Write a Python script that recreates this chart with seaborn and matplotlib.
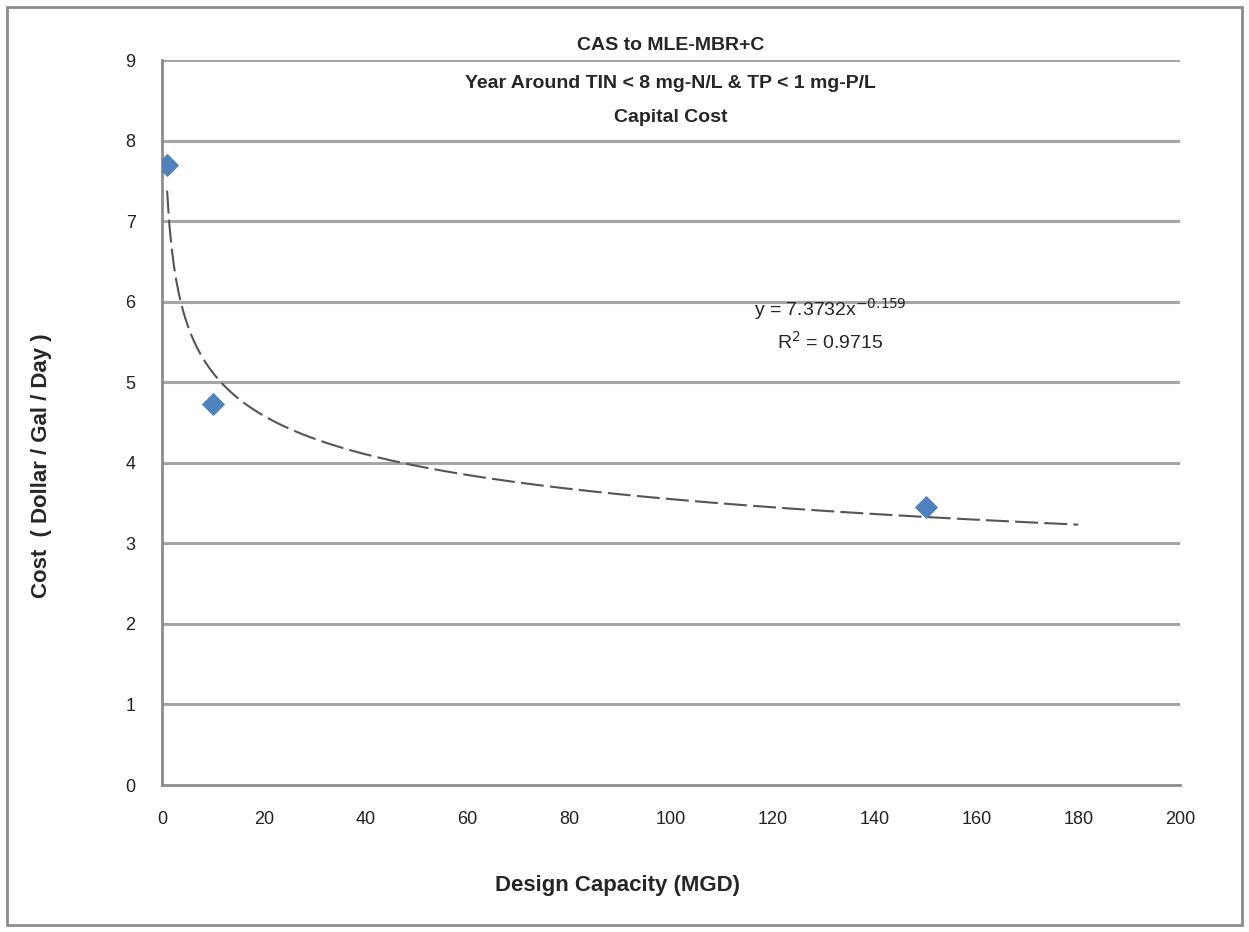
import numpy as np
import pandas as pd
import matplotlib
matplotlib.use("Agg")
import matplotlib.pyplot as plt
import seaborn as sns
from matplotlib.patches import Rectangle

# data
capacity = [1, 10, 150]          # MGD
cost = [7.70, 4.73, 3.45]        # $/gal/day
title_lines = ["CAS to MLE-MBR+C",
               "Year Around TIN < 8 mg-N/L & TP < 1 mg-P/L",
               "Capital Cost"]
eq_text = "y = 7.3732x$^{-0.159}$\nR$^2$ = 0.9715"
x_ticks = [0, 20, 40, 60, 80, 100, 120, 140, 160, 180, 200]
y_ticks = [0, 1, 2, 3, 4, 5, 6, 7, 8, 9]

df = pd.DataFrame({"capacity": capacity, "cost": cost})

# power trendline, fitted like Excel does (log-log least squares)
b, ln_a = np.polyfit(np.log(df["capacity"]), np.log(df["cost"]), 1)
a = np.exp(ln_a)
xs = np.linspace(1, 180, 400)
trend = pd.DataFrame({"capacity": xs, "cost": a * xs ** b})

sns.set_style("white")
plt.rcParams["font.family"] = ["Liberation Sans", "DejaVu Sans"]

fig = plt.figure(figsize=(12.49, 9.32), dpi=100)
ax = fig.add_axes([0.1297, 0.1577, 0.8151, 0.7779])

grid_c = "#a6a6a6"
for yv in y_ticks[1:]:
    ax.axhline(yv, color=grid_c, lw=2.2, zorder=0)

sns.lineplot(data=trend, x="capacity", y="cost", ax=ax, color="#555555",
             lw=1.5, zorder=2)
ax.lines[-1].set_dashes([11, 3])
sns.scatterplot(data=df, x="capacity", y="cost", ax=ax, marker="D", s=120,
                color="#4f81bd", edgecolor="#4f81bd", zorder=3)

ax.set_xlim(0, 200)
ax.set_ylim(0, 9)
ax.set_xticks(x_ticks)
ax.set_yticks(y_ticks)
ax.tick_params(axis="both", direction="out", length=7, width=1.5,
               color="#8c8c8c", labelsize=13, pad=12, labelcolor="#222222")
for side in ["top", "right"]:
    ax.spines[side].set_visible(False)
for side in ["left", "bottom"]:
    ax.spines[side].set_color("#8c8c8c")
    ax.spines[side].set_linewidth(2)

ax.set_xlabel("")
ax.set_ylabel("")
fig.text(0.033, 0.5, "Cost  ( Dollar / Gal / Day )", rotation=90,
         ha="center", va="center", fontsize=16, fontweight="bold")
fig.text(0.494, 0.05, "Design Capacity (MGD)", ha="center", va="center",
         fontsize=16, fontweight="bold")

for i, line in enumerate(title_lines):
    fig.text(0.537, 1 - [45, 84, 118][i] / 932, line, ha="center",
             va="center", fontsize=14, fontweight="bold")

ax.text(0.656, 0.635, eq_text, transform=ax.transAxes, ha="center",
        va="center", fontsize=14, linespacing=1.5)

fig.patches.append(Rectangle((0.006, 0.008), 0.988, 0.984,
                             transform=fig.transFigure, fill=False,
                             edgecolor="#8c8c8c", lw=2))

plt.savefig("out.png", dpi=100)
